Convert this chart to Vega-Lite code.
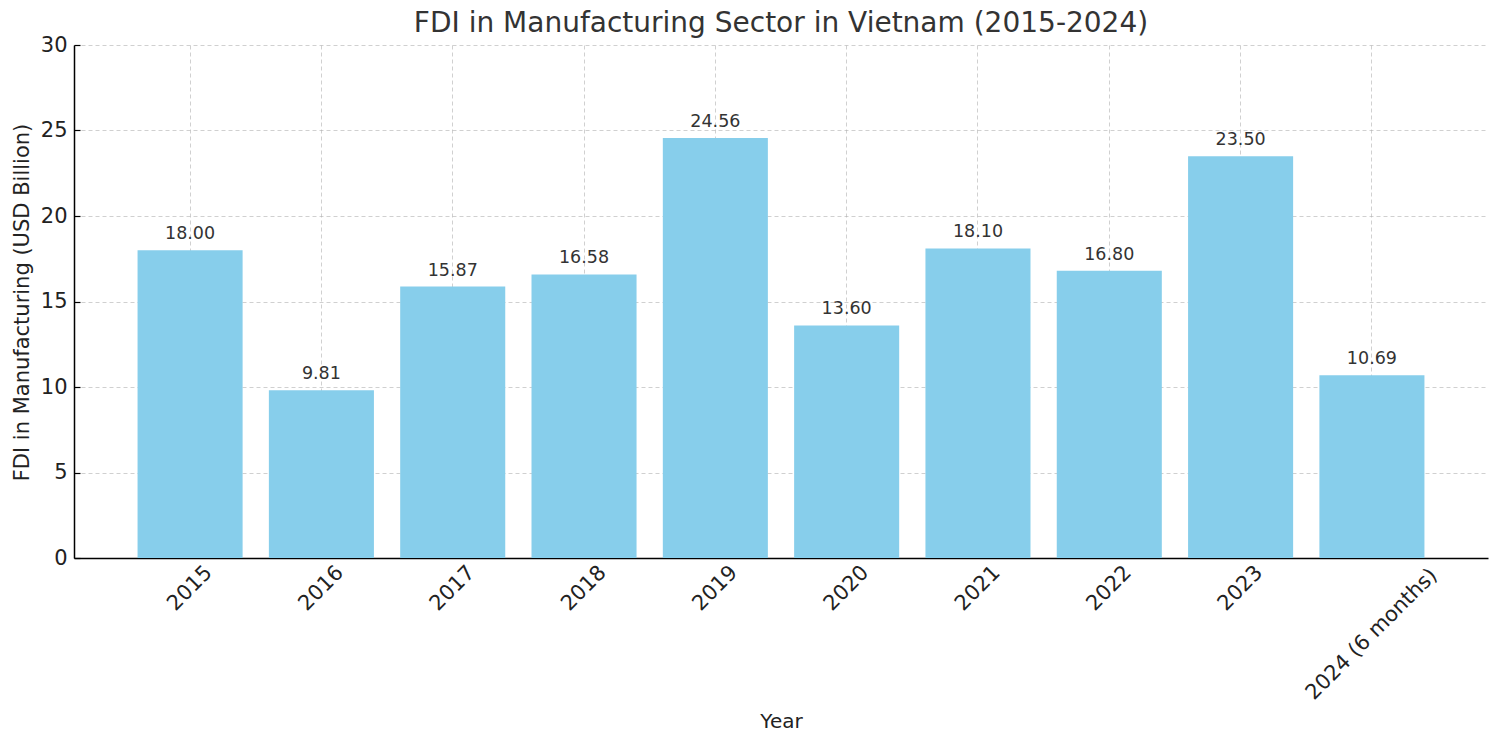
{
  "$schema": "https://vega.github.io/schema/vega-lite/v6.json",
  "autosize": "none",
  "width": 1414,
  "height": 513,
  "padding": {"left": 74, "top": 45, "right": 12, "bottom": 186},
  "background": "white",
  "config": {
    "font": "DejaVu Sans",
    "view": {"stroke": null},
    "axis": {"zindex": 1}
  },
  "title": {
    "text": "FDI in Manufacturing Sector in Vietnam (2015-2024)",
    "fontSize": 28,
    "fontWeight": "normal",
    "color": "#333333",
    "anchor": "middle",
    "frame": "group",
    "baseline": "alphabetic",
    "offset": 11,
    "dy": 37
  },
  "data": {
    "values": [
      {"Year": "2015", "FDI": 18.00},
      {"Year": "2016", "FDI": 9.81},
      {"Year": "2017", "FDI": 15.87},
      {"Year": "2018", "FDI": 16.58},
      {"Year": "2019", "FDI": 24.56},
      {"Year": "2020", "FDI": 13.60},
      {"Year": "2021", "FDI": 18.10},
      {"Year": "2022", "FDI": 16.80},
      {"Year": "2023", "FDI": 23.50},
      {"Year": "2024 (6 months)", "FDI": 10.69}
    ]
  },
  "encoding": {
    "x": {
      "field": "Year",
      "type": "nominal",
      "sort": null,
      "scale": {"paddingInner": 0.2, "paddingOuter": 0.484},
      "axis": {
        "title": "Year",
        "titleFontSize": 20,
        "titleFontWeight": "normal",
        "titleColor": "#222222",
        "titleX": 707,
        "titleY": 169,
        "titleBaseline": "alphabetic",
        "titleAlign": "center",
        "labelAngle": -45,
        "labelAlign": "center",
        "labelBaseline": "middle",
        "labelFontSize": 21,
        "labelColor": "#222222",
        "labelPadding": {"condition": {"test": "length(datum.label) > 4", "value": 82}, "value": 36},
        "domainColor": "#000000",
        "domainWidth": 1.5,
        "tickColor": "#000000",
        "tickSize": -6,
        "tickWidth": 1.2,
        "grid": true,
        "gridColor": "#b0b0b0",
        "gridOpacity": 0.6,
        "gridDash": [4, 3],
        "gridWidth": 1
      }
    }
  },
  "layer": [
    {
      "mark": {"type": "bar", "color": "#87CEEB"},
      "encoding": {
        "y": {
          "field": "FDI",
          "type": "quantitative",
          "scale": {"domain": [0, 30], "nice": false},
          "axis": {
            "title": "FDI in Manufacturing (USD Billion)",
            "titleFontSize": 21,
            "titleFontWeight": "normal",
            "titleColor": "#222222",
            "titleAngle": -90,
            "titleX": -52,
            "titleY": 257,
            "titleAlign": "center",
            "titleBaseline": "middle",
            "values": [0, 5, 10, 15, 20, 25, 30],
            "labelFontSize": 21,
            "labelColor": "#222222",
            "labelPadding": 13,
            "domainColor": "#000000",
            "domainWidth": 1.5,
            "tickColor": "#000000",
            "tickSize": -6,
            "tickWidth": 1.2,
            "grid": true,
            "gridColor": "#b0b0b0",
            "gridOpacity": 0.6,
            "gridDash": [4, 3],
            "gridWidth": 1
          }
        }
      }
    },
    {
      "mark": {"type": "text", "fontSize": 17.5, "color": "#333333", "baseline": "alphabetic", "dy": -11},
      "encoding": {
        "y": {"field": "FDI", "type": "quantitative"},
        "text": {"field": "FDI", "type": "quantitative", "format": ".2f"}
      }
    }
  ]
}
